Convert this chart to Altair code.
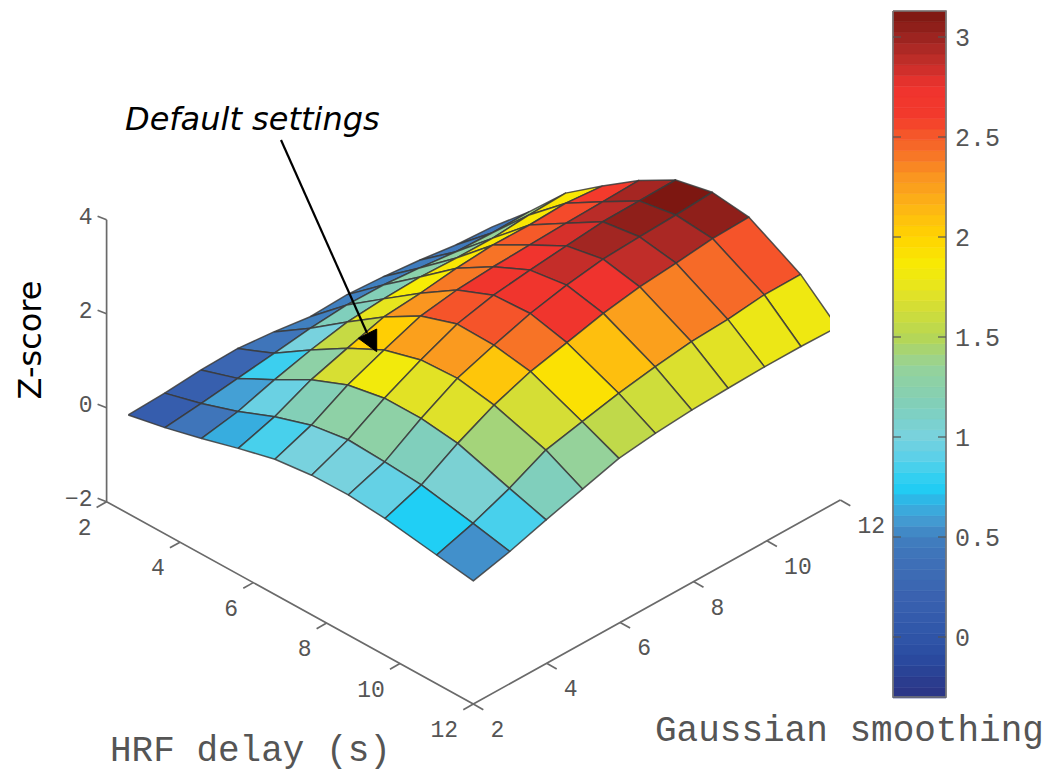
import altair as alt
import numpy as np
import pandas as pd

# grid of the surface
hrf = [2.59, 3.59, 4.59, 5.59, 6.59, 7.59, 8.59, 9.59, 11.0, 12.0]
smooth = [2, 3, 4, 5, 6, 7, 8, 9, 10, 11, 12]
z_rows = [
    [0.10, 0.13, 0.19, 0.21, 0.13, 0.02, 0.05, 0.00, -0.08, -0.19, -0.24],
    [0.26, 0.34, 0.44, 0.54, 0.64, 0.70, 0.69, 0.62, 0.53, 0.50, 0.51],
    [0.46, 0.60, 0.84, 1.04, 1.20, 1.26, 1.29, 1.26, 1.25, 1.31, 1.34],
    [0.68, 0.92, 1.27, 1.51, 1.74, 1.81, 1.91, 1.97, 1.96, 1.99, 1.92],
    [0.88, 1.17, 1.59, 1.90, 2.19, 2.31, 2.37, 2.40, 2.43, 2.45, 2.47],
    [0.97, 1.29, 1.74, 2.12, 2.45, 2.63, 2.73, 2.81, 2.89, 2.90, 2.91],
    [0.98, 1.25, 1.74, 2.16, 2.43, 2.67, 2.84, 2.96, 3.00, 3.03, 3.08],
    [0.91, 1.19, 1.64, 2.02, 2.30, 2.48, 2.67, 2.80, 2.87, 2.96, 2.98],
    [0.74, 0.98, 1.29, 1.67, 1.84, 2.01, 2.14, 2.24, 2.28, 2.37, 2.37],
    [0.62, 0.81, 1.05, 1.27, 1.49, 1.59, 1.65, 1.68, 1.70, 1.70, 1.68],
]
# colour value of each facet (between two rows and two columns)
c_rows = [
    [0.12, 0.15, 0.25, 0.42, 0.50, 0.50, 0.50, 0.48, 0.45, 0.42],
    [0.42, 0.60, 0.82, 1.00, 1.15, 1.18, 1.25, 1.30, 1.35, 1.40],
    [0.65, 0.95, 1.28, 1.58, 1.75, 1.85, 1.88, 1.88, 1.88, 1.88],
    [0.85, 1.18, 1.66, 2.03, 2.30, 2.40, 2.42, 2.50, 2.55, 2.60],
    [1.00, 1.28, 1.82, 2.25, 2.52, 2.70, 2.72, 2.82, 2.90, 2.97],
    [1.00, 1.28, 1.72, 2.28, 2.52, 2.70, 2.87, 2.98, 3.05, 3.12],
    [0.93, 1.15, 1.70, 2.07, 2.42, 2.70, 2.75, 2.88, 2.95, 3.05],
    [0.75, 1.05, 1.42, 1.65, 1.92, 2.10, 2.25, 2.38, 2.45, 2.52],
    [0.55, 0.85, 1.15, 1.35, 1.55, 1.62, 1.68, 1.72, 1.78, 1.80],
]
# colormap
cmap_values = [-0.305, -0.1, 0.0, 0.2, 0.4, 0.5, 0.6, 0.68, 0.75, 0.9, 1.0, 1.15, 1.35,
               1.5, 1.7, 1.85, 2.0, 2.15, 2.3, 2.45, 2.6, 2.75, 2.9, 3.0, 3.13]
cmap_colors = ["#2b3383", "#2a4ba0", "#2f55a8", "#3a62b0", "#3f72b8", "#4080c0", "#44a0d5",
               "#2fb5e5", "#20cff5", "#5cd0e8", "#78d2de", "#80cfbc", "#95d29a",
               "#b5d655", "#dfe12a", "#f7ec05", "#ffd400", "#fdb515", "#fa9620",
               "#f66a28", "#f33a2c", "#ef332e", "#b92c28", "#9c2420", "#7a1610"]

z_ticks = [-2, 0, 2, 4]
floor_ticks = [2, 4, 6, 8, 10, 12]
bar_ticks = [0, 0.5, 1, 1.5, 2, 2.5, 3]
bar_labels = ["0", "0.5", "1", "1.5", "2", "2.5", "3"]


def project(h, s, z):
    return (473.3 + 36.67 * (h - 12) + 36.7 * (s - 2),
            704 + 20.23 * (h - 12) - 20.4 * (s - 2) - 47 * (z + 2))


def bar_y(v):
    return 637 - 200 * v


PX = alt.X("x:Q", axis=None, scale=alt.Scale(domain=[8, 1055], nice=False, zero=False))
PY = alt.Y("y:Q", axis=None, scale=alt.Scale(domain=[771, 8], nice=False, zero=False))
CS = alt.Scale(domain=cmap_values, range=cmap_colors, interpolate="rgb", clamp=True)

# facets, far ones first
rows = []
q = 0
for r in range(len(hrf) - 1):
    for c in range(len(smooth) - 2, -1, -1):
        corners = [(r, c), (r + 1, c), (r + 1, c + 1), (r, c + 1), (r, c)]
        for k, (a, b) in enumerate(corners):
            x, y = project(hrf[a], smooth[b], z_rows[a][b])
            # the surface's column spacing is a little under the axis spacing
            x -= 0.3 * (smooth[b] - 2)
            rows.append(dict(quad=q, k=k, x=x, y=y, c=c_rows[r][c]))
        q += 1
surface = (
    alt.Chart(pd.DataFrame(rows))
    .mark_line(stroke="#3a3a3a", strokeWidth=1.5, strokeOpacity=0.85, interpolate="linear",
               strokeJoin="round")
    .encode(x=PX, y=PY, detail="quad:Q", order="k:Q",
            fill=alt.Fill("c:Q", scale=CS, legend=None))
)

# clipped right border of the original image
mask = alt.Chart(pd.DataFrame([dict(x=830, x2=860, y=290, y2=345)])).mark_rect(
    color="white").encode(x=PX, x2="x2:Q", y=PY, y2="y2:Q")

# 3D axes
seg = []
n = 0


def add(points):
    global n
    for k, (x, y) in enumerate(points):
        seg.append(dict(g=n, k=k, x=x, y=y))
    n += 1


o = project(2, 2, -2)
f = project(12, 2, -2)
e = project(12, 12, -2)
add([project(2, 2, 4), o, f, e])
for t in z_ticks:
    p = project(2, 2, t)
    add([p, (p[0] - 9, p[1] - 3.5)])
for t in floor_ticks:
    p = project(t, 2, -2)
    add([p, (p[0] - 10, p[1] + 5.7)])
    p = project(12, t, -2)
    add([p, (p[0] + 10, p[1] + 5.7)])
axes = alt.Chart(pd.DataFrame(seg)).mark_line(color="#6a6a6a", strokeWidth=1.7).encode(
    x=PX, y=PY, detail="g:Q", order="k:Q")

# colour bar
levels = np.linspace(-0.305, 3.13, 65)
bands = pd.DataFrame(dict(
    x=893, x2=946,
    y=[bar_y(v) for v in levels[:-1]],
    y2=[bar_y(v) for v in levels[1:]],
    c=(levels[:-1] + levels[1:]) / 2,
))
bar = alt.Chart(bands).mark_rect(strokeWidth=0.6).encode(
    x=PX, x2="x2:Q", y=PY, y2="y2:Q",
    fill=alt.Fill("c:Q", scale=CS, legend=None),
    stroke=alt.Stroke("c:Q", scale=CS, legend=None))
frame_pts = [(893, 11), (946, 11), (946, 697), (893, 697), (893, 11)]
frame = alt.Chart(pd.DataFrame(
    [dict(k=i, x=a, y=b) for i, (a, b) in enumerate(frame_pts)]
)).mark_line(color="#777777", strokeWidth=1.7).encode(x=PX, y=PY, order="k:Q")
bt = []
for i, v in enumerate(bar_ticks):
    y = bar_y(v)
    bt += [dict(g=2 * i, k=0, x=893, y=y), dict(g=2 * i, k=1, x=901, y=y),
           dict(g=2 * i + 1, k=0, x=946, y=y), dict(g=2 * i + 1, k=1, x=938, y=y)]
bar_tick_marks = alt.Chart(pd.DataFrame(bt)).mark_line(color="#555555", strokeWidth=1.5, opacity=0.8).encode(
    x=PX, y=PY, detail="g:Q", order="k:Q")

# tick labels
mono = "Liberation Mono"
labs = []
for t in z_ticks:
    p = project(2, 2, t)
    labs.append(dict(x=p[0] - 14, y=p[1] - 3, t=str(t).replace("-", "\u2212"), a="right"))
tick_right = alt.Chart(pd.DataFrame(labs)).mark_text(
    font=mono, fontSize=23, color="#555555", align="right", baseline="middle"
).encode(x=PX, y=PY, text="t:N")

labs = []
for t in floor_ticks:
    p = project(t, 2, -2)
    dx = -22 if t < 10 else -29
    labs.append(dict(x=p[0] + dx, y=p[1] + 26, t=str(t)))
    p = project(12, t, -2)
    dx = 24 if t < 10 else 31
    labs.append(dict(x=p[0] + dx, y=p[1] + 26, t=str(t)))
tick_floor = alt.Chart(pd.DataFrame(labs)).mark_text(
    font=mono, fontSize=23, color="#555555", align="center", baseline="middle"
).encode(x=PX, y=PY, text="t:N")

tick_bar = alt.Chart(pd.DataFrame(dict(
    x=955, y=[bar_y(v) + 1 for v in bar_ticks], t=bar_labels
))).mark_text(font=mono, fontSize=25, color="#555555", align="left", baseline="middle").encode(
    x=PX, y=PY, text="t:N")

titles = alt.Chart(pd.DataFrame([
    dict(x=110, y=750, t="HRF delay (s)"),
    dict(x=655, y=730, t="Gaussian smoothing"),
])).mark_text(font=mono, fontSize=36, color="#555555", align="left", baseline="middle").encode(
    x=PX, y=PY, text="t:N")

zlabel = alt.Chart(pd.DataFrame([dict(x=41, y=340, t="Z-score")])).mark_text(
    font="DejaVu Sans", fontSize=32, color="black", align="center", baseline="alphabetic", angle=270
).encode(x=PX, y=PY, text="t:N")

note = alt.Chart(pd.DataFrame([dict(x=125, y=130, t="Default settings")])).mark_text(
    font="DejaVu Sans", fontSize=32, fontStyle="italic", color="black", align="left", baseline="alphabetic"
).encode(x=PX, y=PY, text="t:N")

# arrow pointing at the default settings
arrow_line = alt.Chart(pd.DataFrame([dict(k=0, x=281, y=140), dict(k=1, x=367, y=333)])).mark_line(
    color="black", strokeWidth=2.2).encode(x=PX, y=PY, order="k:Q")
head_pts = [(358.3, 338.3), (376.7, 329), (376.7, 351.7), (358.3, 338.3)]
arrow_head = alt.Chart(pd.DataFrame(
    [dict(k=i, x=a, y=b) for i, (a, b) in enumerate(head_pts)]
)).mark_line(color="black", fill="black", strokeWidth=1).encode(x=PX, y=PY, order="k:Q")

chart = alt.layer(
    axes, surface, mask, bar, frame, bar_tick_marks, tick_right, tick_floor, tick_bar,
    titles, zlabel, note, arrow_line, arrow_head,
).properties(
    width=1047, height=763, padding=0, autosize=alt.AutoSizeParams(type="none"),
    background="white",
).configure_view(stroke=None)

chart.save("out.html", embed_options={"renderer": "svg", "actions": False})
